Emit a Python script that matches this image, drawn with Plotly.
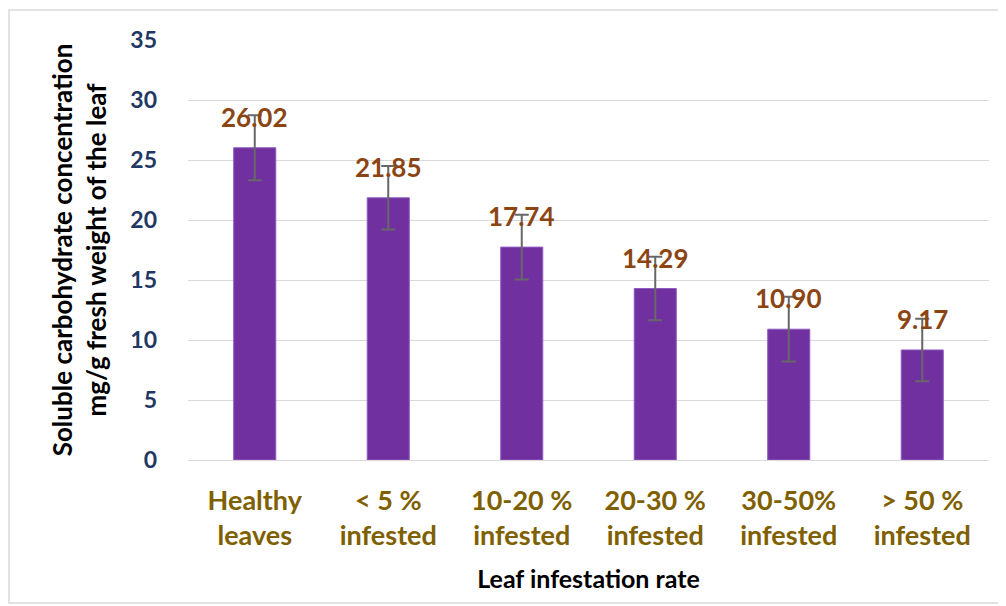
import plotly.graph_objects as go

categories = ["Healthy<br>leaves", "< 5 %<br>infested", "10-20 %<br>infested",
              "20-30 %<br>infested", "30-50%<br>infested", "> 50 %<br>infested"]
values = [26.02, 21.85, 17.74, 14.29, 10.90, 9.17]
errors = [2.7, 2.65, 2.7, 2.65, 2.7, 2.6]
value_labels = ["26.02", "21.85", "17.74", "14.29", "10.90", "9.17"]
y_ticks = [0, 5, 10, 15, 20, 25, 30, 35]

FONT = "Lato"
W, H = 998, 598
L, R, T, B = 180, 17, 32, 146

fig = go.Figure()
fig.add_trace(go.Bar(
    x=categories, y=values,
    marker=dict(color="#7030A0", line=dict(color="#8e5cc0", width=1)),
    width=0.315,
    error_y=dict(type="data", array=errors, visible=True,
                 color="#676767", thickness=2, width=7),
    hoverinfo="skip",
))

for c, v, lab in zip(categories, values, value_labels):
    fig.add_annotation(x=c, y=v, text=lab, showarrow=False,
                       yanchor="bottom", yshift=13,
                       font=dict(family=FONT, size=26, color="#8B4513", weight="bold"))

pw = W - L - R
ph = H - T - B
fig.add_shape(type="rect", xref="paper", yref="paper",
              x0=(1 - L) / pw, x1=(1010 - L) / pw,
              y0=(H - 595 - B) / ph, y1=(H - 2 - B) / ph,
              line=dict(color="#d9d9d9", width=1.5), layer="below")

fig.update_layout(
    width=W, height=H,
    margin=dict(l=L, r=R, t=T, b=B),
    paper_bgcolor="white", plot_bgcolor="white",
    showlegend=False,
    bargap=0.68,
    xaxis=dict(
        tickfont=dict(family=FONT, size=27, color="#7F6000", weight="bold"),
        showgrid=False, showline=False, ticks="",
        ticklabelstandoff=22,
        title=dict(text="Leaf infestation rate",
                   font=dict(family=FONT, size=25, color="black", weight="bold"),
                   standoff=20),
    ),
    yaxis=dict(
        range=[0, 35], tickvals=y_ticks,
        tickfont=dict(family=FONT, size=23, color="#1F3864", weight="bold"),
        showgrid=True, gridcolor="#d9d9d9", gridwidth=1,
        zeroline=True, zerolinecolor="#d9d9d9", zerolinewidth=1,
        showline=False, ticks="",
        ticklabelstandoff=30,
        title=dict(text="Soluble carbohydrate concentration<br>mg/g fresh weight of the leaf",
                   font=dict(family=FONT, size=26, color="black", weight="bold"),
                   standoff=16),
    ),
)

fig.write_html("out.html")
